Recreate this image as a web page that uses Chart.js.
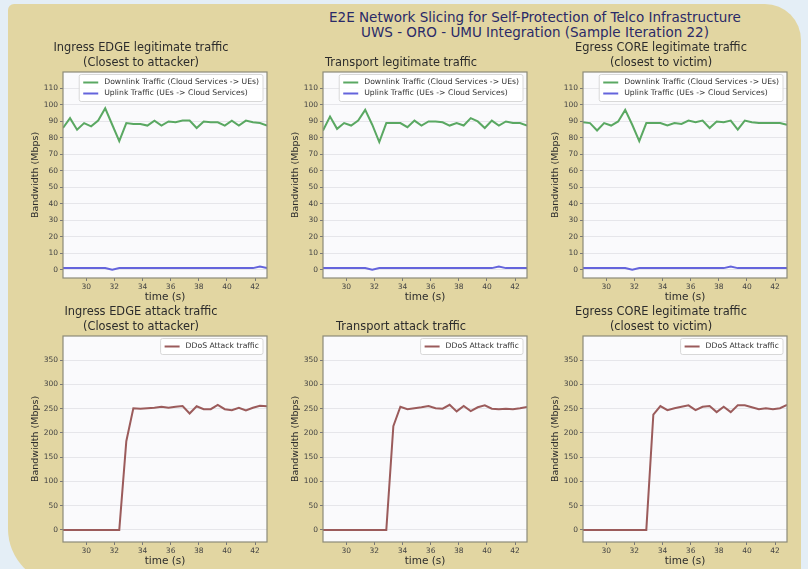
<!DOCTYPE html>
<html>
<head>
<meta charset="utf-8">
<script src="https://cdn.jsdelivr.net/npm/chart.js@4.4.1/dist/chart.umd.min.js"></script>
<style>
    html, body { margin: 0; padding: 0; }
    body { width: 808px; height: 569px; overflow: hidden; background: #e4eef6; position: relative; font-family: 'DejaVu Sans', sans-serif; }
    #panel { position: absolute; left: 8px; top: 4px; width: 793px; height: 580px; background: #e2d6a2; border-radius: 6px 36px 0 55px; }
    #suptitle { position: absolute; left: 285px; top: 10px; width: 500px; text-align: center; font-size: 13.5px; line-height: 15px; color: #2a2a68; white-space: nowrap; }
    canvas { position: absolute; }
</style>
</head>
<body>
<div id="panel"></div>
<div id="suptitle">E2E Network Slicing for Self-Protection of Telco Infrastructure<br>UWS - ORO - UMU Integration (Sample Iteration 22)</div>

<script>
// 시간축 (s)
const times = [28.35, 28.85, 29.35, 29.85, 30.35, 30.85, 31.35, 31.85, 32.35, 32.85,
    33.35, 33.85, 34.35, 34.85, 35.35, 35.85, 36.35, 36.85, 37.35, 37.85,
    38.35, 38.85, 39.35, 39.85, 40.35, 40.85, 41.35, 41.85, 42.35, 42.85];

const xTicks = [30, 32, 34, 36, 38, 40, 42];
const legitTicks = [0, 10, 20, 30, 40, 50, 60, 70, 80, 90, 100, 110];
const attackTicks = [0, 50, 100, 150, 200, 250, 300, 350];

// 정상 트래픽 (Mbps)
const ingressDown = [86, 92, 85, 89, 87, 90.5, 98, 88, 78, 89, 88.5, 88.5, 87.5, 90.5, 87.5,
    90, 89.5, 90.5, 90.5, 86, 90, 89.5, 89.5, 87.5, 90.5, 87.5, 90.5, 89.5, 89, 87.5];
const ingressUp = [1, 1, 1, 1, 1, 1, 1, 0, 1, 1, 1, 1, 1, 1, 1,
    1, 1, 1, 1, 1, 1, 1, 1, 1, 1, 1, 1, 1, 2, 1];
const transportDown = [84.5, 93, 85.5, 89, 87.5, 90.5, 97, 88, 77.5, 89, 89, 89, 86.5, 90.5, 87.5,
    90, 90, 89.5, 87.5, 89, 87.5, 92, 90, 86, 90.5, 87.5, 90, 89, 89, 87.5];
const transportUp = [1, 1, 1, 1, 1, 1, 1, 0, 1, 1, 1, 1, 1, 1, 1,
    1, 1, 1, 1, 1, 1, 1, 1, 1, 1, 2, 1, 1, 1, 1];
const egressDown = [89.5, 89, 84.5, 89, 87.5, 90, 97, 88, 78, 89, 89, 89, 87.5, 89, 88.5,
    90.5, 89.5, 90.5, 86, 90, 89.5, 90.5, 85, 90.5, 89.5, 89, 89, 89, 89, 88];
const egressUp = [1, 1, 1, 1, 1, 1, 1, 0, 1, 1, 1, 1, 1, 1, 1,
    1, 1, 1, 1, 1, 1, 2, 1, 1, 1, 1, 1, 1, 1, 1];

// 공격 트래픽 (Mbps)
const ingressAttack = [0, 0, 0, 0, 0, 0, 0, 0, 0, 183, 251, 250, 251, 252, 254,
    252, 254, 255.5, 240, 255, 249, 249, 258, 249, 247, 252, 246.5, 252, 256, 255];
const transportAttack = [0, 0, 0, 0, 0, 0, 0, 0, 0, 0, 214, 254, 249, 251, 253,
    255.5, 251, 250, 258, 244.5, 255.5, 245, 253, 257, 250, 249, 250, 249, 251, 253.5];
const egressAttack = [0, 0, 0, 0, 0, 0, 0, 0, 0, 0, 238, 255.5, 247, 251, 254,
    257, 247, 254, 255.5, 243, 254, 243, 257, 257, 253, 249, 251, 249, 251, 258];

const downLabel = 'Downlink Traffic (Cloud Services -> UEs)';
const upLabel = 'Uplink Traffic (UEs -> Cloud Services)';
const attackLabel = 'DDoS Attack traffic';

const downColor = '#5aa862';
const upColor = '#6464dc';
const attackColor = '#9b5b5b';

const titleSize = 11.4;
const titleLH = 1.3;

// 플롯 영역 배경 + 테두리 + 범례
const framePlugin = {
    id: 'frame',
    beforeDraw(chart) {
        const { ctx, chartArea: a } = chart;
        ctx.save();
        ctx.fillStyle = '#fafafc';
        ctx.fillRect(a.left, a.top, a.right - a.left, a.bottom - a.top);
        ctx.restore();
    },
    afterDraw(chart) {
        const { ctx, chartArea: a } = chart;
        ctx.save();
        ctx.strokeStyle = '#8c8a78';
        ctx.lineWidth = 1.2;
        ctx.strokeRect(a.left, a.top, a.right - a.left, a.bottom - a.top);

        // 범례 (오른쪽 위, 플롯 안쪽)
        const items = chart.data.datasets;
        ctx.font = '7.7px "DejaVu Sans"';
        const textW = Math.max(...items.map(d => ctx.measureText(d.label).width));
        const lineH = 11, padX = 4, padY = 2.5, handle = 15, gap = 6;
        const w = padX * 2 + handle + gap + textW;
        const h = padY * 2 + lineH * items.length;
        const x = a.right - 4 - w;
        const y = a.top + 2.5;
        ctx.fillStyle = 'rgba(255,255,255,0.85)';
        ctx.strokeStyle = '#d8d8d8';
        ctx.lineWidth = 1;
        ctx.beginPath();
        ctx.roundRect(x, y, w, h, 2);
        ctx.fill();
        ctx.stroke();
        items.forEach((d, i) => {
            const cy = y + padY + lineH * (i + 0.5);
            ctx.strokeStyle = d.borderColor;
            ctx.lineWidth = 2;
            ctx.beginPath();
            ctx.moveTo(x + padX, cy);
            ctx.lineTo(x + padX + handle, cy);
            ctx.stroke();
            ctx.fillStyle = '#333';
            ctx.textBaseline = 'middle';
            ctx.textAlign = 'left';
            ctx.fillText(d.label, x + padX + handle + gap, cy);
        });
        ctx.restore();
    }
};

function series(values) {
    return values.map((v, i) => ({ x: times[i], y: v }));
}

function makeChart(plotLeft, plotTop, title, datasets, yMin, yMax, yTicks) {
    const W = 256, H = 270;
    const canvas = document.createElement('canvas');
    canvas.width = W;
    canvas.height = H;
    canvas.style.left = (plotLeft - 48) + 'px';
    canvas.style.top = (plotTop - 38) + 'px';
    canvas.style.width = W + 'px';
    canvas.style.height = H + 'px';
    document.body.appendChild(canvas);

    const lines = Array.isArray(title) ? title.length : 1;
    const titleH = lines * titleSize * titleLH + 2;

    new Chart(canvas.getContext('2d'), {
        type: 'line',
        data: {
            datasets: datasets.map(d => ({
                label: d.label,
                data: series(d.values),
                borderColor: d.color,
                borderWidth: 2,
                pointRadius: 0,
                tension: 0,
                fill: false
            }))
        },
        options: {
            responsive: false,
            animation: false,
            devicePixelRatio: 1,
            layout: { padding: { top: 38 - titleH, left: 0, right: 4, bottom: 0 } },
            plugins: {
                legend: { display: false },
                tooltip: { enabled: false },
                title: {
                    display: true,
                    text: title,
                    color: '#2c2c2c',
                    font: { family: 'DejaVu Sans', size: titleSize, lineHeight: titleLH, weight: 'normal' },
                    padding: { top: 0, bottom: 2 }
                }
            },
            scales: {
                x: {
                    type: 'linear',
                    min: times[0],
                    max: times[times.length - 1],
                    afterBuildTicks: s => { s.ticks = xTicks.map(v => ({ value: v })); },
                    afterFit: s => { s.height = 26; },
                    grid: { drawOnChartArea: false, drawTicks: true, tickLength: 3, tickColor: '#777' },
                    border: { display: false },
                    ticks: { color: '#444', padding: 2, maxRotation: 0, font: { family: 'DejaVu Sans', size: 7.5 } },
                    title: {
                        display: true, text: 'time (s)', color: '#2c2c2c',
                        font: { family: 'DejaVu Sans', size: 10.5 },
                        padding: { top: 1, bottom: 0 }
                    }
                },
                y: {
                    type: 'linear',
                    min: yMin,
                    max: yMax,
                    afterBuildTicks: s => { s.ticks = yTicks.map(v => ({ value: v })); },
                    afterFit: s => { s.width = 48; },
                    grid: { color: '#e6e6ea', lineWidth: 1, drawTicks: true, tickLength: 3, tickColor: '#777' },
                    border: { display: false },
                    ticks: { color: '#444', padding: 2, font: { family: 'DejaVu Sans', size: 7.5 } },
                    title: {
                        display: true, text: 'Bandwidth (Mbps)', color: '#2c2c2c',
                        font: { family: 'DejaVu Sans', size: 9.5 },
                        padding: { top: 15, bottom: 0 }
                    }
                }
            }
        },
        plugins: [framePlugin]
    });
}

const colLeft = [63, 323, 583];
const rowTop = [72, 336];

makeChart(colLeft[0], rowTop[0], ['Ingress EDGE legitimate traffic', '(Closest to attacker)'], [
    { label: downLabel, values: ingressDown, color: downColor },
    { label: upLabel, values: ingressUp, color: upColor }
], -5, 120, legitTicks);
makeChart(colLeft[1], rowTop[0], 'Transport legitimate traffic', [
    { label: downLabel, values: transportDown, color: downColor },
    { label: upLabel, values: transportUp, color: upColor }
], -5, 120, legitTicks);
makeChart(colLeft[2], rowTop[0], ['Egress CORE legitimate traffic', '(closest to victim)'], [
    { label: downLabel, values: egressDown, color: downColor },
    { label: upLabel, values: egressUp, color: upColor }
], -5, 120, legitTicks);

makeChart(colLeft[0], rowTop[1], ['Ingress EDGE attack traffic', '(Closest to attacker)'], [
    { label: attackLabel, values: ingressAttack, color: attackColor }
], -25, 400, attackTicks);
makeChart(colLeft[1], rowTop[1], 'Transport attack traffic', [
    { label: attackLabel, values: transportAttack, color: attackColor }
], -25, 400, attackTicks);
makeChart(colLeft[2], rowTop[1], ['Egress CORE legitimate traffic', '(closest to victim)'], [
    { label: attackLabel, values: egressAttack, color: attackColor }
], -25, 400, attackTicks);
</script>
</body>
</html>
